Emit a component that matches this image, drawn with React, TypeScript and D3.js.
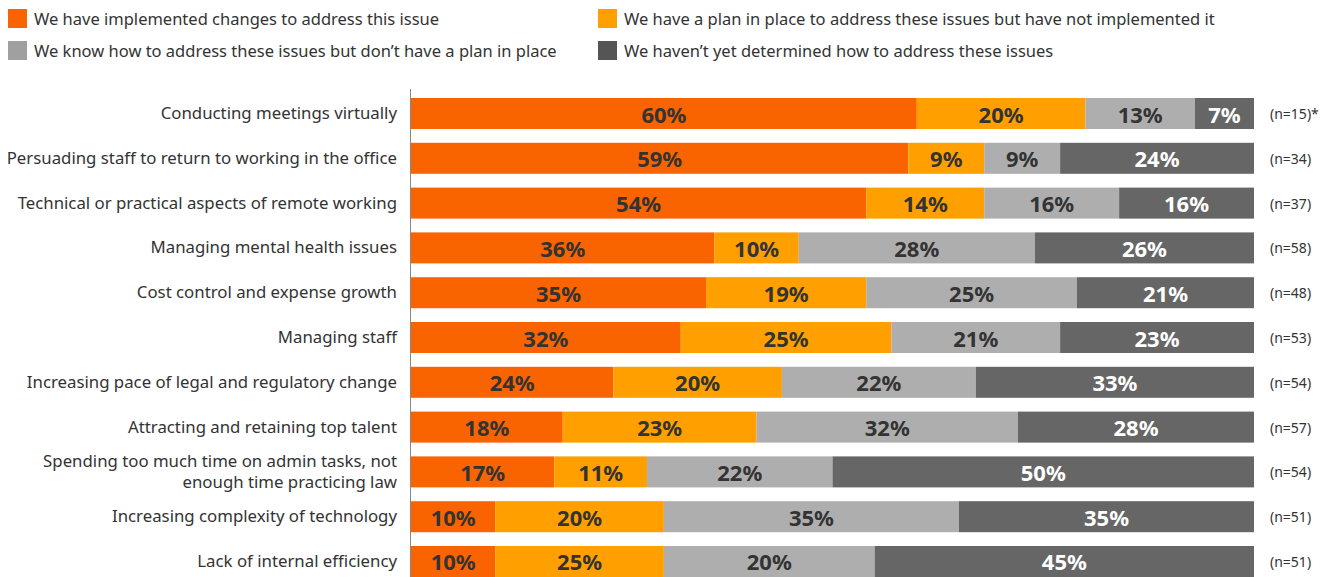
import React from "react";
import * as d3 from "d3";

const categories = [
  "Conducting meetings virtually",
  "Persuading staff to return to working in the office",
  "Technical or practical aspects of remote working",
  "Managing mental health issues",
  "Cost control and expense growth",
  "Managing staff",
  "Increasing pace of legal and regulatory change",
  "Attracting and retaining top talent",
  "Spending too much time on admin tasks, not|enough time practicing law",
  "Increasing complexity of technology",
  "Lack of internal efficiency",
];
const sampleSizes = ["(n=15)*", "(n=34)", "(n=37)", "(n=58)", "(n=48)", "(n=53)", "(n=54)", "(n=57)", "(n=54)", "(n=51)", "(n=51)"];

const seriesNames = [
  "We have implemented changes to address this issue",
  "We have a plan in place to address these issues but have not implemented it",
  "We know how to address these issues but don\u2019t have a plan in place",
  "We haven\u2019t yet determined how to address these issues",
];

// bar widths (percent)
const implemented = [60, 59, 54, 36, 35, 32, 24, 18, 17, 10, 10];
const planned = [20, 9, 14, 10, 19, 25, 20, 23, 11, 20, 20];
const knowHow = [13, 9, 16, 28, 25, 20, 23, 31, 22, 35, 25];
const notYet = [7, 23, 16, 26, 21, 23, 33, 28, 50, 35, 45];

// printed labels
const implementedLabels = [60, 59, 54, 36, 35, 32, 24, 18, 17, 10, 10];
const plannedLabels = [20, 9, 14, 10, 19, 25, 20, 23, 11, 20, 25];
const knowHowLabels = [13, 9, 16, 28, 25, 21, 22, 32, 22, 35, 20];
const notYetLabels = [7, 24, 16, 26, 21, 23, 33, 28, 50, 35, 45];

const colors = ["#F96400", "#FFA000", "#AEAEAE", "#666666"];
const legendColors = ["#F96400", "#FFA000", "#A0A0A0", "#555555"];
const labelColors = ["#333333", "#333333", "#333333", "#FFFFFF"];

const FONT = "'Noto Sans', 'Open Sans', sans-serif";

export default function App() {
  const keys = ["a", "b", "c", "d"];
  const rows = categories.map((c, i) => ({
    cat: c,
    a: implemented[i],
    b: planned[i],
    c: knowHow[i],
    d: notYet[i],
  }));
  const labelSets = [implementedLabels, plannedLabels, knowHowLabels, notYetLabels];
  const stack = d3.stack<any>().keys(keys);
  const stacked = stack(rows);

  const x = d3.scaleLinear().domain([0, 100]).range([411, 1254]);
  const y = d3
    .scaleBand<string>()
    .domain(categories)
    .range([98, 577])
    .paddingInner(0.308)
    .paddingOuter(0);
  const bw = y.bandwidth();

  return (
    <svg
      width={1330}
      height={577}
      style={{ position: "absolute", left: 0, top: 0, background: "#fff" }}
      fontFamily={FONT}
    >
      {/* legend */}
      {seriesNames.map((name, i) => {
        const col = i % 2;
        const row = i < 2 ? 0 : 1;
        const lx = col === 0 ? 8 : 598;
        const ly = row === 0 ? 9 : 41;
        return (
          <g key={name}>
            <rect x={lx} y={ly} width={19} height={19} fill={legendColors[i]} />
            <text x={lx + 26} y={ly + 9.5} dominantBaseline="central" fontSize={16.5} fill="#333">
              {name}
            </text>
          </g>
        );
      })}

      {/* bars */}
      {stacked.map((s, si) => (
        <g key={s.key}>
          {s.map((d, i) => (
            <rect
              key={i}
              x={x(d[0])}
              y={y(categories[i])}
              width={x(d[1]) - x(d[0])}
              height={bw}
              fill={colors[si]}
            />
          ))}
          {s.map((d, i) => (
            <text
              key={"t" + i}
              x={(x(d[0]) + x(d[1])) / 2}
              y={(y(categories[i]) as number) + bw / 2}
              textAnchor="middle"
              dominantBaseline="central"
              fontSize={22}
              fontWeight={700}
              fill={labelColors[si]}
            >
              {labelSets[si][i]}%
            </text>
          ))}
        </g>
      ))}

      {/* axis line */}
      <line x1={410.5} x2={410.5} y1={89} y2={577} stroke="#888" strokeWidth={1} />

      {/* category labels */}
      {categories.map((c, i) => {
        const lines = c.split("|");
        const cy = (y(c) as number) + bw / 2 - 1;
        return (
          <text key={c} x={397} textAnchor="end" fontSize={16.8} fill="#333">
            {lines.map((l, j) => (
              <tspan key={j} x={397} y={cy + (j - (lines.length - 1) / 2) * 21} dominantBaseline="central">
                {l}
              </tspan>
            ))}
          </text>
        );
      })}

      {/* sample sizes */}
      {sampleSizes.map((n, i) => (
        <text
          key={i}
          x={1270}
          y={(y(categories[i]) as number) + bw / 2}
          dominantBaseline="central"
          fontSize={14}
          fill="#333"
        >
          {n}
        </text>
      ))}
    </svg>
  );
}
